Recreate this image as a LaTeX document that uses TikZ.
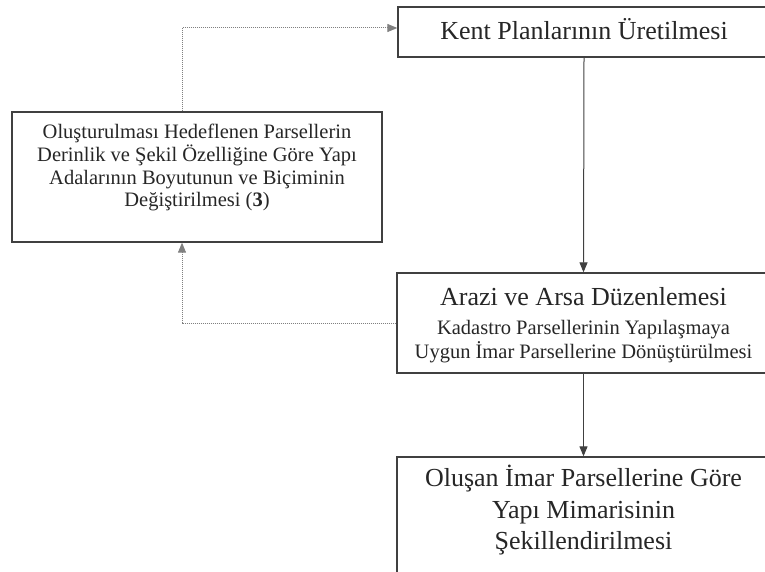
\documentclass[tikz,border=0pt]{standalone}
\usepackage{fontspec}
\setmainfont{Liberation Serif}
\usetikzlibrary{arrows.meta}
\begin{document}
\begin{tikzpicture}[x=1pt,y=1pt,
  box/.style={draw=black!75, line width=1.3pt, fill=white, inner sep=0pt},
  txt/.style={text=black!85, inner sep=0pt, anchor=base},
  bigtxt/.style={txt, font=\fontsize{26}{30}\selectfont},
  smalltxt/.style={txt, font=\fontsize{20.5}{24}\selectfont},
  solidarrow/.style={draw=black!75, line width=1pt, -{Triangle[length=10pt,width=8pt]}},
  dotarrow/.style={draw=black!50, line width=1pt, densely dotted, -{Triangle[length=10pt,width=8pt]}}]
\useasboundingbox (0,0) rectangle (765,571);
% boxes (reference pixel y measured from top: tikz y = 571 - y)
\node[box, minimum width=372pt, minimum height=50pt] (kent) at (584,539) {};
\node[box, minimum width=370pt, minimum height=130pt] (left) at (197,394) {};
\node[box, minimum width=373pt, minimum height=100pt] (arazi) at (583.5,248) {};
\node[box, minimum width=373pt, minimum height=124pt] (olusan) at (583.5,52) {};
% texts
\node[bigtxt] (kent1) at ([yshift=-33pt]kent.north) {Kent Planlarının Üretilmesi};
\node[smalltxt] (left1) at ([yshift=-27pt]left.north) {Oluşturulması Hedeflenen Parsellerin};
\node[smalltxt] (left2) at ([yshift=-50pt]left.north) {Derinlik ve Şekil Özelliğine Göre Yapı};
\node[smalltxt] (left3) at ([yshift=-73pt]left.north) {Adalarının Boyutunun ve Biçiminin};
\node[smalltxt] (left4) at ([yshift=-95.5pt]left.north) {Değiştirilmesi (\textbf{3})};
\node[bigtxt] (arazi1) at ([yshift=-33pt]arazi.north) {Arazi ve Arsa Düzenlemesi};
\node[smalltxt] (arazi2) at ([yshift=-62pt]arazi.north) {Kadastro Parsellerinin Yapılaşmaya};
\node[smalltxt] (arazi3) at ([yshift=-86pt]arazi.north) {Uygun İmar Parsellerine Dönüştürülmesi};
\node[bigtxt] (olusan1) at ([yshift=-30pt]olusan.north) {Oluşan İmar Parsellerine Göre};
\node[bigtxt] (olusan2) at ([yshift=-62pt]olusan.north) {Yapı Mimarisinin};
\node[bigtxt] (olusan3) at ([yshift=-93pt]olusan.north) {Şekillendirilmesi};
% connectors
\coordinate (dx) at (182,0);
\coordinate (kin) at ([yshift=4pt]kent.west);
\draw[solidarrow] (kent.south) -- (arazi.north);
\draw[solidarrow] (arazi.south) -- (olusan.north);
\draw[dotarrow] (left.north -| dx) |- (kin);
\draw[dotarrow] (arazi.west) -| (dx |- left.south);
\end{tikzpicture}
\end{document}
